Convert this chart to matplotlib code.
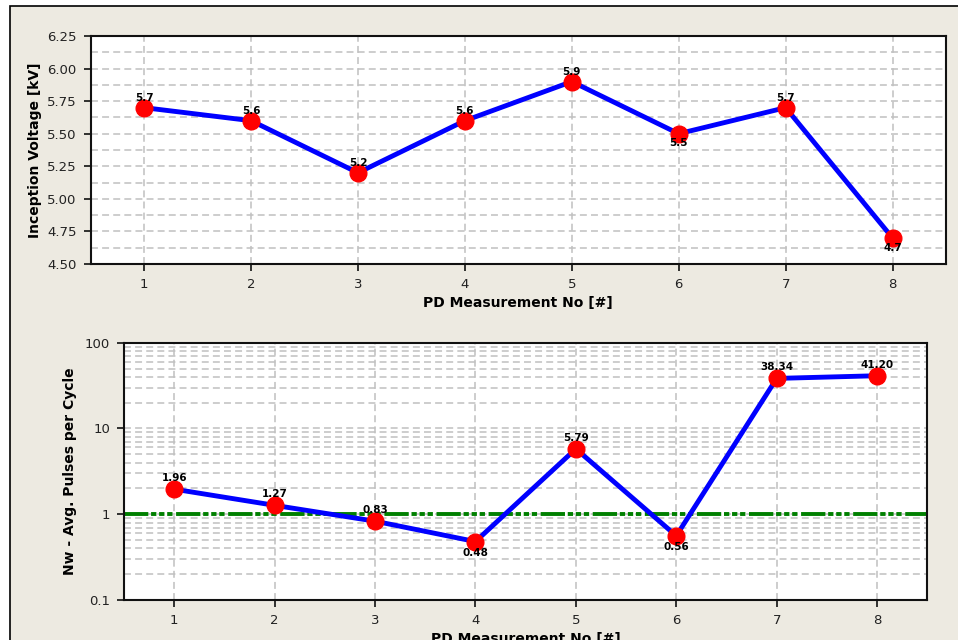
import matplotlib
matplotlib.use("Agg")
import matplotlib.pyplot as plt
from matplotlib.patches import Rectangle
from matplotlib.ticker import FixedLocator, FuncFormatter, LogLocator, NullFormatter, MultipleLocator

# ---- data ----
measurements = [1, 2, 3, 4, 5, 6, 7, 8]
inception_kv = [5.7, 5.6, 5.2, 5.6, 5.9, 5.5, 5.7, 4.7]
top_label_below = [False, False, False, False, False, True, False, True]
pulses_per_cycle = [1.96, 1.27, 0.83, 0.48, 5.79, 0.56, 38.34, 41.20]
bottom_label_below = [False, False, False, True, False, True, False, False]
threshold = 1.0
xlabel = "PD Measurement No [#]"
ylabel_top = "Inception Voltage [kV]"
ylabel_bottom = "Nw - Avg. Pulses per Cycle"
log_ticks = [0.1, 1, 10, 100]
log_tick_labels = ["0.1", "1", "10", "100"]

plt.rcParams['font.family'] = ['DejaVu Sans']
plt.rcParams['lines.scale_dashes'] = False

W, H = 958, 640
fig = plt.figure(figsize=(W / 100, H / 100), dpi=100, facecolor='white')
bg = '#EDEAE1'
fig.patches.append(Rectangle((10 / W, -0.1), 1.2, (H - 6) / H + 0.1, transform=fig.transFigure,
                             facecolor=bg, edgecolor='black', linewidth=1.2, zorder=-10))

def px(l, t, r, b):
    return [l / W, (H - b) / H, (r - l) / W, (b - t) / H]

ax1 = fig.add_axes(px(90.7, 36, 946, 264))
ax2 = fig.add_axes(px(124, 342.7, 927.3, 600))

tick_color = '#222222'
grid_kw = dict(color='#c0c0c0', linestyle=(0, (5, 3)), linewidth=1.1)

def style(ax):
    ax.set_facecolor('white')
    for s in ax.spines.values():
        s.set_linewidth(1.5)
        s.set_color('#111111')
    ax.tick_params(axis='both', which='major', direction='out', length=5, width=1.2,
                   labelsize=9.5, labelcolor=tick_color, color='#111111', pad=5)
    ax.tick_params(axis='both', which='minor', length=0)
    ax.set_xlim(0.5, 8.5)
    ax.set_xticks(measurements)
    ax.set_axisbelow(True)
    ax.grid(True, which='both', axis='y', **grid_kw)
    ax.grid(True, which='major', axis='x', **grid_kw)
    ax.set_xlabel(xlabel, fontsize=10, fontweight='bold', labelpad=4)

# ---- top chart ----
style(ax1)
ax1.set_ylim(4.5, 6.25)
ax1.yaxis.set_major_locator(MultipleLocator(0.25))
ax1.yaxis.set_minor_locator(MultipleLocator(0.125))
ax1.yaxis.set_major_formatter(FuncFormatter(lambda v, p: f"{v:.2f}"))
ax1.plot(measurements, inception_kv, color='#0000ff', linewidth=3.5, zorder=3,
         marker='o', markersize=12, markerfacecolor='#ff0000', markeredgecolor='#ff0000')
for x, y, below in zip(measurements, inception_kv, top_label_below):
    ax1.annotate(f"{y:.1f}", (x, y), xytext=(0, -7 if below else 7), textcoords='offset points',
                 ha='center', va='center', fontsize=7.5, fontweight='bold', zorder=5)
ax1.set_ylabel(ylabel_top, fontsize=10, fontweight='bold', labelpad=4)

# ---- bottom chart ----
style(ax2)
ax2.set_yscale('log')
ax2.set_ylim(0.1, 100)
ax2.yaxis.set_major_locator(FixedLocator(log_ticks))
ax2.yaxis.set_major_formatter(FuncFormatter(lambda v, p: log_tick_labels[log_ticks.index(min(log_ticks, key=lambda t: abs(t - v)))]))
ax2.yaxis.set_minor_locator(LogLocator(base=10, subs=range(2, 10)))
ax2.yaxis.set_minor_formatter(NullFormatter())
ax2.grid(True, which='both', axis='y', **grid_kw)
thr = ax2.axhline(threshold, color='#008000', linewidth=2.8, zorder=2)
thr.set_dashes([17.5, 2.0, 3.8, 2.0, 3.8, 2.0, 3.8, 2.6])
thr.set_dash_capstyle('butt')
ax2.plot(measurements, pulses_per_cycle, color='#0000ff', linewidth=3.5, zorder=3,
         marker='o', markersize=12, markerfacecolor='#ff0000', markeredgecolor='#ff0000')
for x, y, below in zip(measurements, pulses_per_cycle, bottom_label_below):
    ax2.annotate(f"{y:.2f}", (x, y), xytext=(0, -8 if below else 8), textcoords='offset points',
                 ha='center', va='center', fontsize=7.5, fontweight='bold', zorder=5)
ax2.set_ylabel(ylabel_bottom, fontsize=10, fontweight='bold', labelpad=6)

fig.savefig("out.png", dpi=100, facecolor=fig.get_facecolor())
